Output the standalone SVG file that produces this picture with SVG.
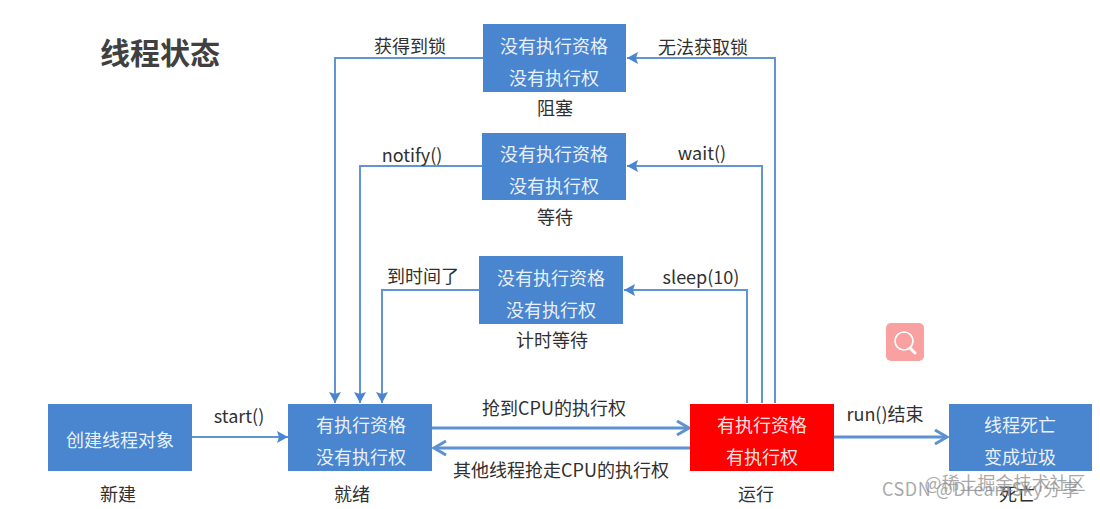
<svg xmlns="http://www.w3.org/2000/svg" width="1100" height="509" viewBox="0 0 1100 509">
<style>
text{font-family:"Noto Sans CJK SC","Noto Sans",sans-serif;font-size:18px;text-anchor:middle}
.lb{fill:#303030}
.w{fill:#fff;fill-opacity:.9}
.n{fill:#4a86d0}
.c{fill:none;stroke:#6094d2;stroke-width:2}
.o{fill:none;stroke:#5c92d2;stroke-width:3}
.wm{fill:#8c8c8c;fill-opacity:.75}
</style>
<defs>
<marker id="t" markerUnits="userSpaceOnUse" markerWidth="14" markerHeight="14" refX="11" refY="6" orient="auto"><path d="M0 0L11 6L0 12L2 6Z" fill="#4a86d0"/></marker>
<marker id="o" markerUnits="userSpaceOnUse" markerWidth="16" markerHeight="18" refX="13" refY="8" orient="auto"><path d="M1 1L13 8L1 15" fill="none" stroke="#5c92d2" stroke-width="3"/></marker>
</defs>
<rect width="1100" height="509" fill="#fff"/>
<text x="160" y="64" style="font-size:30px;font-weight:700" fill="#404040">线程状态</text>
<g id="connectors">
<path class="c" d="M483 58H335V403" marker-end="url(#t)"/>
<path class="c" d="M483 166H360V403" marker-end="url(#t)"/>
<path class="c" d="M479 290H382V403" marker-end="url(#t)"/>
<path class="c" d="M775 403V58H627" marker-end="url(#t)"/>
<path class="c" d="M762 403V166H627" marker-end="url(#t)"/>
<path class="c" d="M747 403V290H624" marker-end="url(#t)"/>
<path class="c" d="M192 437H288" marker-end="url(#t)"/>
<path class="o" d="M432 428H689" marker-end="url(#o)"/>
<path class="o" d="M690 448H434" marker-end="url(#o)"/>
<path class="o" d="M834 437H947" marker-end="url(#o)"/>
</g>
<g id="labels" class="lb">
<text x="410" y="53">获得到锁</text>
<text x="703" y="54">无法获取锁</text>
<text x="412" y="162">notify()</text>
<text x="702" y="160">wait()</text>
<text x="423" y="283">到时间了</text>
<text x="701" y="284">sleep(10)</text>
<text x="239" y="423">start()</text>
<text x="554" y="415">抢到CPU的执行权</text>
<text x="561" y="477">其他线程抢走CPU的执行权</text>
<text x="885" y="421">run()结束</text>
</g>
<g id="blocked"><rect class="n" x="483" y="24" width="143" height="68"/><text class="w" x="554" y="53">没有执行资格</text><text class="w" x="554" y="85">没有执行权</text><text class="lb" x="555" y="115">阻塞</text></g>
<g id="waiting"><rect class="n" x="482" y="133" width="144" height="67"/><text class="w" x="554" y="161">没有执行资格</text><text class="w" x="554" y="193">没有执行权</text><text class="lb" x="555" y="224">等待</text></g>
<g id="timed"><rect class="n" x="479" y="256" width="144" height="68"/><text class="w" x="551" y="285">没有执行资格</text><text class="w" x="551" y="317">没有执行权</text><text class="lb" x="552" y="347">计时等待</text></g>
<g id="new"><rect class="n" x="48" y="404" width="144" height="67"/><text class="w" x="120" y="447">创建线程对象</text><text class="lb" x="118" y="501">新建</text></g>
<g id="ready"><rect class="n" x="288" y="404" width="144" height="67"/><text class="w" x="361" y="432">有执行资格</text><text class="w" x="361" y="464">没有执行权</text><text class="lb" x="352" y="501">就绪</text></g>
<g id="running"><rect x="690" y="404" width="144" height="67" fill="#fe0000"/><text class="w" x="762" y="432">有执行资格</text><text class="w" x="762" y="464">有执行权</text><text class="lb" x="756" y="501">运行</text></g>
<g id="dead"><rect class="n" x="949" y="404" width="143" height="67"/><text class="w" x="1020" y="432">线程死亡</text><text class="w" x="1020" y="464">变成垃圾</text><text class="lb" x="1017" y="501">死亡</text></g>
<g id="search"><rect x="886" y="323" width="38" height="38" rx="5" fill="#f9a0a0"/><circle cx="904" cy="341" r="9" fill="none" stroke="#fff" stroke-width="1.7"/><path d="M910 348L915 353" stroke="#fff" stroke-width="3" stroke-linecap="round"/></g>
<g id="watermark">
<text class="wm" x="1005" y="490" style="font-size:18px">@稀土掘金技术社区</text>
<text class="wm" x="981" y="496" style="font-size:18px;letter-spacing:.5px">CSDN @DreamSky分享</text>
</g>
</svg>
